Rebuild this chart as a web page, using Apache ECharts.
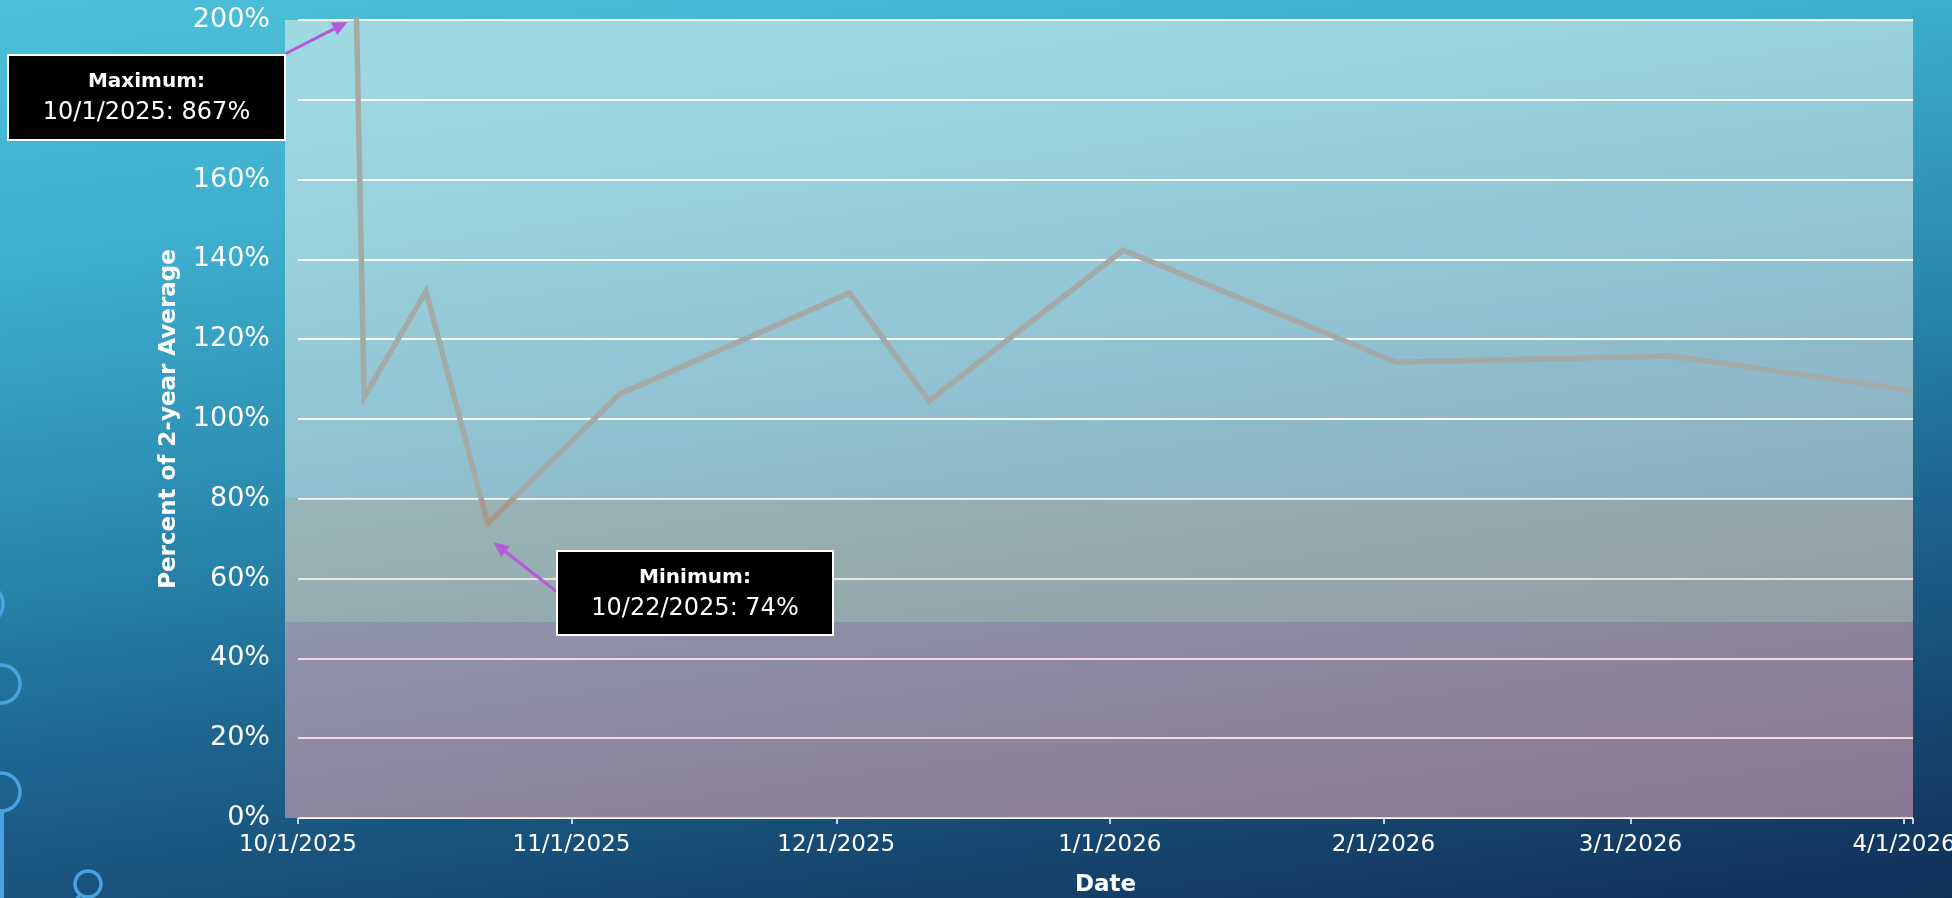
<!DOCTYPE html>
<html><head><meta charset="utf-8">
<script src="https://cdn.jsdelivr.net/npm/echarts@6/dist/echarts.min.js"></script>
<style>
html,body{margin:0;padding:0;width:1952px;height:898px;overflow:hidden;
background: linear-gradient(172deg, #4cc0d8 0%, #3eb0cf 22%, #2b8cb2 45%, #1d6690 65%, #16466f 85%, #102f59 100%);}
#c{width:1952px;height:898px;}
</style></head><body><div id="c"></div>
<script>
// ---- data ----
const dates  = ['10/1/2025','10/8/2025','10/15/2025','10/22/2025','11/6/2025','12/2/2025','12/11/2025','1/2/2026','2/2/2026','3/5/2026','4/1/2026'];
const values = [867, 105.5, 132, 73.8, 106.3, 131.6, 104.5, 142.3, 114.2, 115.8, 107.3];
const monthTicks = ['10/1/2025','11/1/2025','12/1/2025','1/1/2026','2/1/2026','3/1/2026','4/1/2026'];
const yTickValues = [0,20,40,60,80,100,120,140,160,180,200];
const bandEdges = [0, 49, 80, 200];
const bandColors = ['rgba(245,176,186,0.52)', 'rgba(226,210,190,0.60)', 'rgba(246,246,238,0.50)'];
const maxLabel = ['Maximum:', '10/1/2025: 867%'];
const minLabel = ['Minimum:', '10/22/2025: 74%'];

// daily categories (Excel-like date axis, points between tick marks)
const dayCats = [];
{
  const d = new Date(2025, 9, 1), end = new Date(2026, 3, 1);
  while (d <= end) { dayCats.push((d.getMonth()+1)+'/'+d.getDate()+'/'+d.getFullYear()); d.setDate(d.getDate()+1); }
}
const isMonthStart = (i, v) => monthTicks.indexOf(v) >= 0;

const chart = echarts.init(document.getElementById('c'), null, {renderer:'canvas'});
const FONT = 'DejaVu Sans';
const option = {
  backgroundColor: 'transparent',
  animation: false,
  grid: {left: 298, right: 39, top: 20, bottom: 80, containLabel: false, outerBoundsMode: 'none'},
  xAxis: {
    type: 'category', data: dayCats, boundaryGap: true,
    name: 'Date', nameLocation: 'middle', nameGap: 56,
    nameTextStyle: {color:'#fff', fontFamily: FONT, fontWeight:'bold', fontSize: 23},
    axisLine: {show: false},
    axisTick: {show: true, interval: isMonthStart, alignWithLabel: false, length: 6, lineStyle: {color:'#ffffff', width: 1.5}},
    axisLabel: {interval: isMonthStart, color:'#fff', fontFamily: FONT, fontSize: 23, margin: 16, hideOverlap: false,
      formatter: v => '{a|' + v + '}',
      rich: {a: {color:'#fff', fontFamily: FONT, fontSize: 23, padding: [0, 9, 0, 0]}}},
    splitLine: {show: false}
  },
  yAxis: {
    type: 'value', min: 0, max: 200, interval: 20,
    name: 'Percent of 2-year Average', nameLocation: 'middle', nameGap: 117,
    nameTextStyle: {color:'#fff', fontFamily: FONT, fontWeight:'bold', fontSize: 23},
    axisLine: {show:false}, axisTick: {show:false},
    axisLabel: {color:'#fff', fontFamily: FONT, fontSize: 27, margin: 28, formatter: '{value}%'},
    splitLine: {show: true, lineStyle: {color: '#ffffff', width: 2}}
  },
  visualMap: {show: false, type: 'piecewise', dimension: 1, seriesIndex: 0,
    pieces: [{min: -100, max: bandEdges[2], color: '#a99a8c'}, {min: bandEdges[2], max: 1000, color: '#a3aaa7'}]},
  series: [{
    type: 'line', clip: true, symbol: 'none', z: 3,
    data: dates.map((d, i) => [d, values[i]]),
    lineStyle: {width: 5.5, cap: 'round', join: 'miter'},
    markArea: {
      silent: true,
      data: [
        [{yAxis: bandEdges[2], itemStyle: {color: bandColors[2]}}, {yAxis: bandEdges[3]}],
        [{yAxis: bandEdges[1], itemStyle: {color: bandColors[1]}}, {yAxis: bandEdges[2]}],
        [{yAxis: bandEdges[0], itemStyle: {color: bandColors[0]}}, {yAxis: bandEdges[1]}]
      ]
    }
  }]
};
chart.setOption(option);

// ---- annotations ----
function arrow(x1, y1, x2, y2, color) {
  const ang = Math.atan2(y2 - y1, x2 - x1), L = 15, W = 7;
  const bx = x2 - L*Math.cos(ang), by = y2 - L*Math.sin(ang);
  const px = -Math.sin(ang)*W, py = Math.cos(ang)*W;
  return [
    {type:'line', shape:{x1, y1, x2: bx, y2: by}, style:{stroke: color, lineWidth: 3}, z: 10},
    {type:'polygon', shape:{points:[[x2,y2],[bx+px,by+py],[bx-px,by-py]]}, style:{fill: color}, z: 10}
  ];
}
function box(x, y, w, h, lines) {
  return [
    {type:'rect', shape:{x, y, width: w, height: h}, style:{fill:'#000', stroke:'#fff', lineWidth: 2}, z: 11},
    {type:'text', x: x + w/2, y: y + 27, style:{text: lines[0], fill:'#fff', font: 'bold 20px "DejaVu Sans"', align:'center', verticalAlign:'middle'}, z: 12},
    {type:'text', x: x + w/2, y: y + 58, style:{text: lines[1], fill:'#fff', font: '24px "DejaVu Sans"', align:'center', verticalAlign:'middle'}, z: 12}
  ];
}
const topPt = chart.convertToPixel({seriesIndex: 0}, [dates[0], 200]);
const minPt = chart.convertToPixel({seriesIndex: 0}, [dates[3], values[3]]);
const purple = '#b45ad9';
const deco = '#4aa2e0';
// short extension of the shaded bands to the left of the plot (as in the slide)
const gridLeft = option.grid.left;
const bandExt = [];
for (let b = 0; b < 3; b++) {
  const yTop = chart.convertToPixel({yAxisIndex: 0}, bandEdges[b+1]);
  const yBot = chart.convertToPixel({yAxisIndex: 0}, bandEdges[b]);
  bandExt.push({type:'rect', shape:{x: gridLeft - 13, y: yTop, width: 13, height: yBot - yTop}, style:{fill: bandColors[b]}, z: 0});
}
const graphics = [].concat(
  bandExt,
  arrow(285, 54, topPt[0] + 45, topPt[1] + 2, purple),
  arrow(557, 592, minPt[0] + 6, minPt[1] + 19, purple),
  box(8, 55, 277, 85, maxLabel),
  box(557, 551, 276, 84, minLabel),
  [
    {type:'circle', shape:{cx:-17, cy:604, r:20}, style:{fill:'none', stroke: deco, lineWidth: 3.5}},
    {type:'circle', shape:{cx:1, cy:684, r:19}, style:{fill:'none', stroke: deco, lineWidth: 3.5}},
    {type:'circle', shape:{cx:1, cy:792, r:19}, style:{fill:'none', stroke: deco, lineWidth: 3.5}},
    {type:'line', shape:{x1:2, y1:811, x2:2, y2:900}, style:{stroke: deco, lineWidth: 4}},
    {type:'circle', shape:{cx:88, cy:884, r:13}, style:{fill:'none', stroke: deco, lineWidth: 3.5}},
    {type:'line', shape:{x1:80, y1:895, x2:72, y2:905}, style:{stroke: deco, lineWidth: 3.5}}
  ]
);
chart.setOption({graphic: graphics});
</script></body></html>
